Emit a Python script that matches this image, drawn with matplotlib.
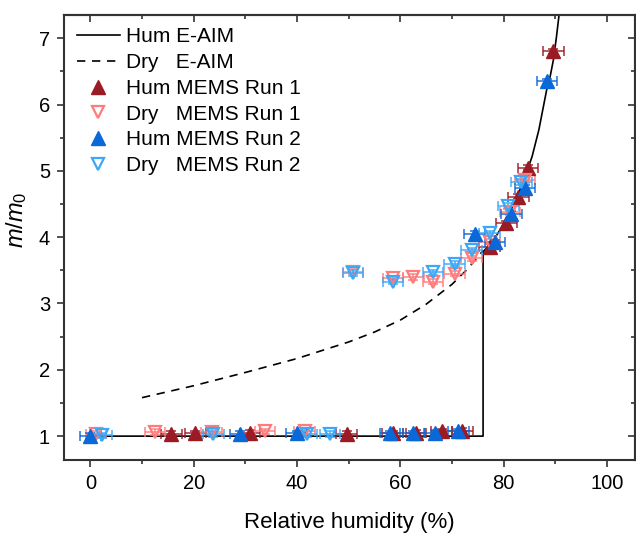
import matplotlib
matplotlib.use("Agg")
import matplotlib.pyplot as plt
import numpy as np
from matplotlib.ticker import MultipleLocator

plt.rcParams['font.family'] = ['Liberation Sans', 'DejaVu Sans']
plt.rcParams['mathtext.fontset'] = 'custom'
plt.rcParams['mathtext.it'] = 'Liberation Sans:italic'
plt.rcParams['mathtext.rm'] = 'Liberation Sans'

# E-AIM model curves
hum_aim_rh = [0, 76.0, 76.0, 78.0, 80.0, 82.0, 84.0, 85.5, 86.8, 87.5, 88.3, 89.0, 89.6, 90.2, 90.7, 91.2]
hum_aim_m = [1.0, 1.0, 3.78, 3.95, 4.20, 4.50, 4.88, 5.22, 5.62, 5.90, 6.22, 6.43, 6.67, 7.02, 7.35, 7.7]
dry_aim_rh = [10.0, 20.0, 30.0, 40.0, 50.0, 55.0, 60.0, 65.0, 70.0, 73.0, 76.0]
dry_aim_m = [1.58, 1.76, 1.96, 2.17, 2.42, 2.57, 2.75, 2.99, 3.29, 3.52, 3.80]

# MEMS measurements
hum1_rh = [15.7, 20.3, 30.9, 49.6, 58.5, 63.0, 68.0, 72.0, 77.3, 80.5, 82.8, 84.7, 89.6]
hum1_m = [1.03, 1.04, 1.05, 1.03, 1.04, 1.05, 1.07, 1.08, 3.85, 4.21, 4.61, 5.05, 6.80]
dry1_rh = [1.1, 12.5, 23.5, 33.8, 41.5, 50.8, 58.6, 62.5, 66.3, 70.5, 73.8, 77.3, 81.2, 84.1]
dry1_m = [1.03, 1.06, 1.06, 1.07, 1.07, 3.48, 3.38, 3.40, 3.33, 3.45, 3.68, 3.93, 4.38, 4.86]
hum2_rh = [0.0, 29.0, 39.9, 58.0, 62.5, 66.7, 71.2, 74.4, 78.3, 81.5, 84.1, 88.4]
hum2_m = [1.00, 1.03, 1.04, 1.04, 1.04, 1.05, 1.07, 4.05, 3.92, 4.35, 4.74, 6.35]
dry2_rh = [2.2, 23.8, 41.9, 46.4, 50.8, 58.6, 66.3, 70.5, 73.8, 77.3, 80.9, 83.4]
dry2_m = [1.01, 1.03, 1.03, 1.03, 3.46, 3.33, 3.47, 3.60, 3.80, 4.06, 4.47, 4.83]
rh_err = 2.0
m_err = 0.04

fig = plt.figure(figsize=(6.36, 5.37), dpi=100)
ax = fig.add_axes([64/636, 1-460/537, (635-64)/636, (460-15)/537])

ax.plot(hum_aim_rh, hum_aim_m, color='black', lw=1.2, label='Hum E-AIM', zorder=2)
ax.plot(dry_aim_rh, dry_aim_m, color='black', lw=1.2, ls=(0, (5, 4)), label='Dry   E-AIM', zorder=2)

c_h1 = '#9b1b24'
c_d1 = '#ff7b7b'
c_h2 = '#0a68d8'
c_d2 = '#3aa8f8'

def series(x, y, color, marker, filled, label):
    ax.errorbar(x, y, xerr=rh_err, yerr=m_err, fmt='none', ecolor=color, elinewidth=1.2,
                capsize=3.5, capthick=1.2, alpha=0.85, zorder=3)
    if filled:
        ax.plot(x, y, ls='none', marker=marker, ms=9.5, mfc=color, mec=color, mew=1.0,
                label=label, zorder=4)
    else:
        ax.plot(x, y, ls='none', marker=marker, ms=8.5, mfc='none', mec=color, mew=1.6,
                label=label, zorder=4)

series(hum1_rh, hum1_m, c_h1, '^', True, 'Hum MEMS Run 1')
series(dry1_rh, dry1_m, c_d1, 'v', False, 'Dry   MEMS Run 1')
series(hum2_rh, hum2_m, c_h2, '^', True, 'Hum MEMS Run 2')
series(dry2_rh, dry2_m, c_d2, 'v', False, 'Dry   MEMS Run 2')

ax.set_xlim(-5.1, 105.4)
ax.set_ylim(0.64, 7.35)
ax.xaxis.set_major_locator(MultipleLocator(20))
ax.xaxis.set_minor_locator(MultipleLocator(10))
ax.yaxis.set_major_locator(MultipleLocator(1))
ax.yaxis.set_minor_locator(MultipleLocator(0.5))
ax.tick_params(which='both', direction='out', top=False, right=False, labelsize=14.5,
               color='#333333', pad=5)
ax.tick_params(which='major', length=5, width=1.2)
ax.tick_params(which='minor', length=3, width=1.2)

# inward ticks on top and right
axt = ax.secondary_xaxis('top')
axt.xaxis.set_major_locator(MultipleLocator(20))
axt.xaxis.set_minor_locator(MultipleLocator(10))
axt.tick_params(which='both', direction='in', labeltop=False, color='#333333', width=1.2)
axt.tick_params(which='major', length=5)
axt.tick_params(which='minor', length=3)
axr = ax.secondary_yaxis('right')
axr.yaxis.set_major_locator(MultipleLocator(1))
axr.yaxis.set_minor_locator(MultipleLocator(0.5))
axr.tick_params(which='both', direction='in', labelright=False, color='#333333', width=1.2)
axr.tick_params(which='major', length=5)
axr.tick_params(which='minor', length=3)
for a in (axt, axr):
    for s in a.spines.values():
        s.set_linewidth(1.5)
        s.set_color('#333333')

for s in ax.spines.values():
    s.set_linewidth(1.5)
    s.set_color('#333333')

ax.set_xlabel('Relative humidity (%)', fontsize=16, labelpad=14)
ax.set_ylabel(r'$m/m_\mathrm{0}$', fontsize=17)
ax.yaxis.set_label_coords(-0.062, 0.54)

leg = ax.legend(loc='upper left', frameon=False, fontsize=15, handlelength=2.1,
                handletextpad=0.3, labelspacing=0.32, borderaxespad=0.2,
                bbox_to_anchor=(0.0, 1.0))

fig.savefig('out.png', dpi=100)
